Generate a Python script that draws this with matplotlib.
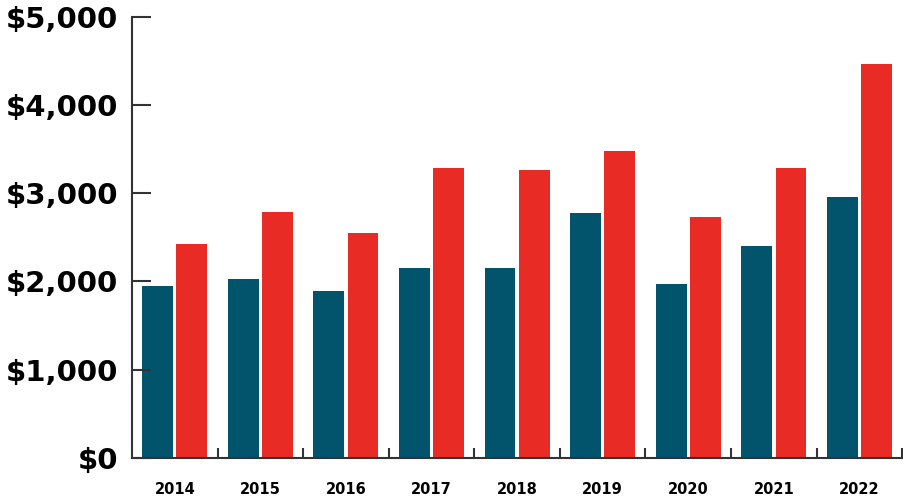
import numpy as np
import matplotlib.pyplot as plt
from matplotlib.ticker import FuncFormatter

# data
years = ['2014', '2015', '2016', '2017', '2018', '2019', '2020', '2021', '2022']
blue_vals = [1948, 2027, 1891, 2152, 2152, 2771, 1967, 2397, 2952]
red_vals = [2424, 2786, 2548, 3284, 3265, 3473, 2733, 3284, 4462]

blue = '#02536c'
red = '#e92b25'
axis_col = '#333333'

fig = plt.figure(figsize=(9.04, 4.97), dpi=100)
ax = fig.add_axes([0.146, 0.0785, 0.852, 0.888])

x = np.arange(len(years))
w = 0.36
ax.bar(x - 0.2, blue_vals, width=w, color=blue)
ax.bar(x + 0.2, red_vals, width=w, color=red)

ax.set_xlim(-0.5, len(years) - 0.5)
ax.set_ylim(0, 5000)

# spines
for s in ['top', 'right']:
    ax.spines[s].set_visible(False)
for s in ['left', 'bottom']:
    ax.spines[s].set_color(axis_col)
    ax.spines[s].set_linewidth(1.5)

# y axis
ax.set_yticks(np.arange(0, 5001, 1000))
ax.yaxis.set_major_formatter(FuncFormatter(lambda v, p: '${:,.0f}'.format(v)))
ax.tick_params(axis='y', direction='in', length=14, width=1.5, color=axis_col,
               pad=10, labelsize=21)
for lab in ax.get_yticklabels():
    lab.set_fontweight('bold')

# x axis: labels at centres, ticks at boundaries
ax.set_xticks(x)
ax.set_xticklabels(years, fontweight='bold', fontsize=10.5)
ax.tick_params(axis='x', which='major', length=0, pad=17)
ax.set_xticks(np.arange(0.5, len(years), 1), minor=True)
ax.tick_params(axis='x', which='minor', direction='in', length=7, width=1.5,
               color=axis_col)

fig.savefig('out.png', dpi=100)
